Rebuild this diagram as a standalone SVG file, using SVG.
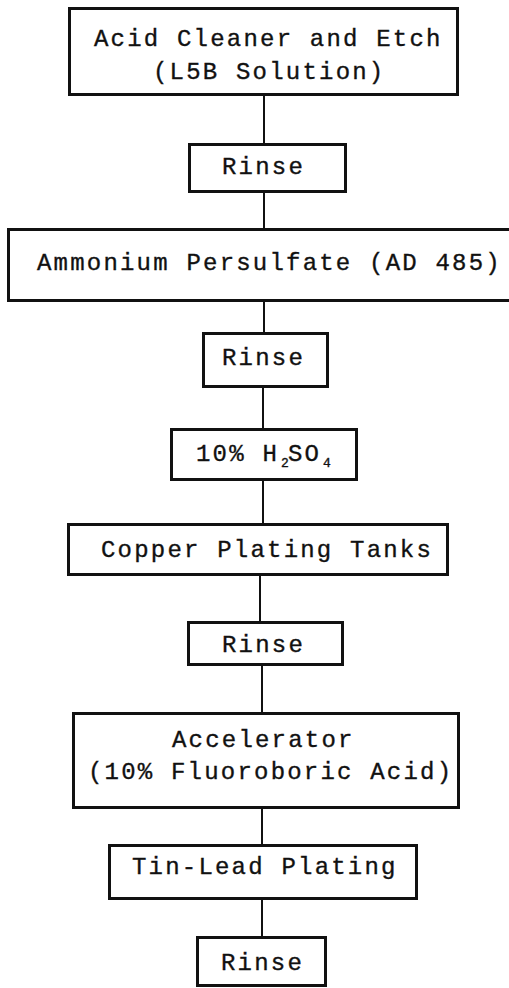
<svg xmlns="http://www.w3.org/2000/svg" width="509" height="988" viewBox="0 0 509 988">
<style>
.box{fill:#fff;stroke:#111;stroke-width:3}
.lbl{font-family:"Liberation Mono","Courier New",monospace;font-size:24px;letter-spacing:2.2px;fill:#111;stroke:#111;stroke-width:0.35}
.sub{font-size:13px;letter-spacing:0}
.conn line{stroke:#111;stroke-width:2}
</style>
<rect width="509" height="988" fill="#fff"/>
<g class="conn" id="connectors">
<line x1="264" y1="96" x2="264" y2="144"/>
<line x1="264" y1="192" x2="264" y2="229"/>
<line x1="264" y1="301" x2="264" y2="333"/>
<line x1="263" y1="387" x2="263" y2="429"/>
<line x1="263" y1="480" x2="263" y2="524"/>
<line x1="260" y1="575" x2="260" y2="622"/>
<line x1="262" y1="665" x2="262" y2="713"/>
<line x1="262" y1="808" x2="262" y2="845"/>
<line x1="262" y1="899" x2="262" y2="937"/>
</g>
<g id="n1"><rect class="box" x="69.5" y="8.5" width="388" height="86"/>
<text class="lbl" x="94" y="46">Acid Cleaner and Etch</text>
<text class="lbl" x="153" y="79">(L5B Solution)</text></g>
<g id="n2"><rect class="box" x="189.5" y="144.5" width="156" height="47"/>
<text class="lbl" x="222" y="174">Rinse</text></g>
<g id="n3"><rect class="box" x="8.5" y="229.5" width="510" height="71"/>
<text class="lbl" x="37" y="270">Ammonium Persulfate (AD 485)</text></g>
<g id="n4"><rect class="box" x="203.5" y="333.5" width="124" height="53"/>
<text class="lbl" x="222" y="365">Rinse</text></g>
<g id="n5"><rect class="box" x="171.5" y="429.5" width="185" height="50"/>
<text class="lbl" x="196" y="461">10% H</text>
<text class="lbl sub" x="281" y="467">2</text>
<text class="lbl" x="288" y="461">SO</text>
<text class="lbl sub" x="323" y="467">4</text></g>
<g id="n6"><rect class="box" x="68.5" y="524.5" width="379" height="50"/>
<text class="lbl" x="101" y="557">Copper Plating Tanks</text></g>
<g id="n7"><rect class="box" x="188.5" y="622.5" width="154" height="42"/>
<text class="lbl" x="222" y="652">Rinse</text></g>
<g id="n8"><rect class="box" x="73.5" y="713.5" width="385" height="94"/>
<text class="lbl" x="172" y="747">Accelerator</text>
<text class="lbl" x="88" y="779">(10% Fluoroboric Acid)</text></g>
<g id="n9"><rect class="box" x="109.5" y="845.5" width="307" height="53"/>
<text class="lbl" x="132" y="874">Tin-Lead Plating</text></g>
<g id="n10"><rect class="box" x="197.5" y="937.5" width="128" height="48"/>
<text class="lbl" x="221" y="970">Rinse</text></g>
</svg>
